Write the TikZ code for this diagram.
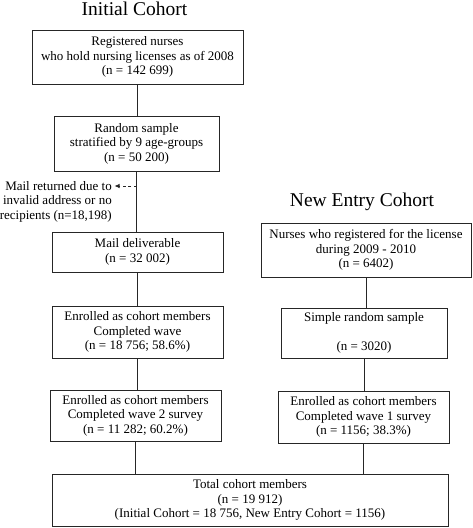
\documentclass[tikz,border=0pt]{standalone}
\usepackage{fontspec}
\setmainfont{Liberation Serif}
\usetikzlibrary{arrows.meta}
\tikzset{
	flowbox/.style={draw=black!85, line width=0.8pt, align=center, inner sep=1pt, font=\fontsize{13}{14.5}\selectfont},
	link/.style={draw=black!85, line width=0.8pt},
	cohorttitle/.style={font=\fontsize{19.5}{22}\selectfont, anchor=base},
}
\begin{document}
\begin{tikzpicture}[x=1pt, y=-1pt]
			%%%%% START %%%%%
			\useasboundingbox (0, 0) rectangle (472, 528);
			
			\node[cohorttitle] (inittitle) at (134.5, 15) {Initial Cohort};
			\node[cohorttitle] (newtitle) at (362, 206.5) {New Entry Cohort};
			
			% initial cohort
			\node[flowbox, minimum width=211pt, minimum height=54pt] (init1) at (137.5, 57) {Registered nurses\\who hold nursing licenses as of 2008\\(n = 142 699)};
			\node[flowbox, minimum width=165pt, minimum height=55pt] (init2) at (136.5, 143.5) {Random sample\\stratified by 9 age-groups\\(n = 50 200)};
			\node[flowbox, minimum width=171pt, minimum height=40pt] (init3) at (137.5, 252) {Mail deliverable\\(n = 32 002)};
			\node[flowbox, minimum width=171pt, minimum height=52pt] (init4) at (137.5, 332) {Enrolled as cohort members\\Completed wave\\(n = 18 756; 58.6\%)};
			\node[flowbox, minimum width=171pt, minimum height=51pt] (init5) at (135.5, 415.5) {Enrolled as cohort members\\Completed wave 2 survey\\(n = 11 282; 60.2\%)};
			
			\node[align=right, inner sep=0pt, anchor=east, font=\fontsize{13}{14.5}\selectfont] (mail) at (112, 201.5) {Mail returned due to\\invalid address or no\\recipients (n=18,198)};
			
			% new entry cohort
			\node[flowbox, minimum width=210pt, minimum height=54pt] (new1) at (366, 250) {Nurses who registered for the license\\during 2009 - 2010\\(n = 6402)};
			\node[flowbox, minimum width=166pt, minimum height=50pt] (new2) at (364, 333) {Simple random sample\\\strut\\(n = 3020)};
			\node[flowbox, minimum width=171pt, minimum height=52pt] (new3) at (363.5, 417) {Enrolled as cohort members\\Completed wave 1 survey\\(n = 1156; 38.3\%)};
			
			\node[flowbox, minimum width=396pt, minimum height=52pt] (total) at (250, 500) {Total cohort members\\(n = 19 912)\\(Initial Cohort = 18 756, New Entry Cohort = 1156)};
			
			% connectors
			\draw[link] (init1.south) -- (init1.south |- init2.north);
			\draw[link] (init2.south) -- (init2.south |- init3.north);
			\draw[link] (init3.south) -- (init3.south |- init4.north);
			\draw[link] (init4.south) -- (init4.south |- init5.north);
			\draw[link] (init5.south) -- (init5.south |- total.north);
			\draw[link] (new1.south) -- (new1.south |- new2.north);
			\draw[link] (new2.south) -- (new2.south |- new3.north);
			\draw[link] (new3.south) -- (new3.south |- total.north);
			
			\coordinate (tap) at (init2.south |- 0, 186);
			\draw[link, dash pattern=on 3pt off 2.5pt, -{Latex[length=5pt, width=4.5pt]}] (tap) -- ([xshift=2.5pt]mail.east |- tap);
			%%%%% END %%%%%
		\end{tikzpicture}
\end{document}
